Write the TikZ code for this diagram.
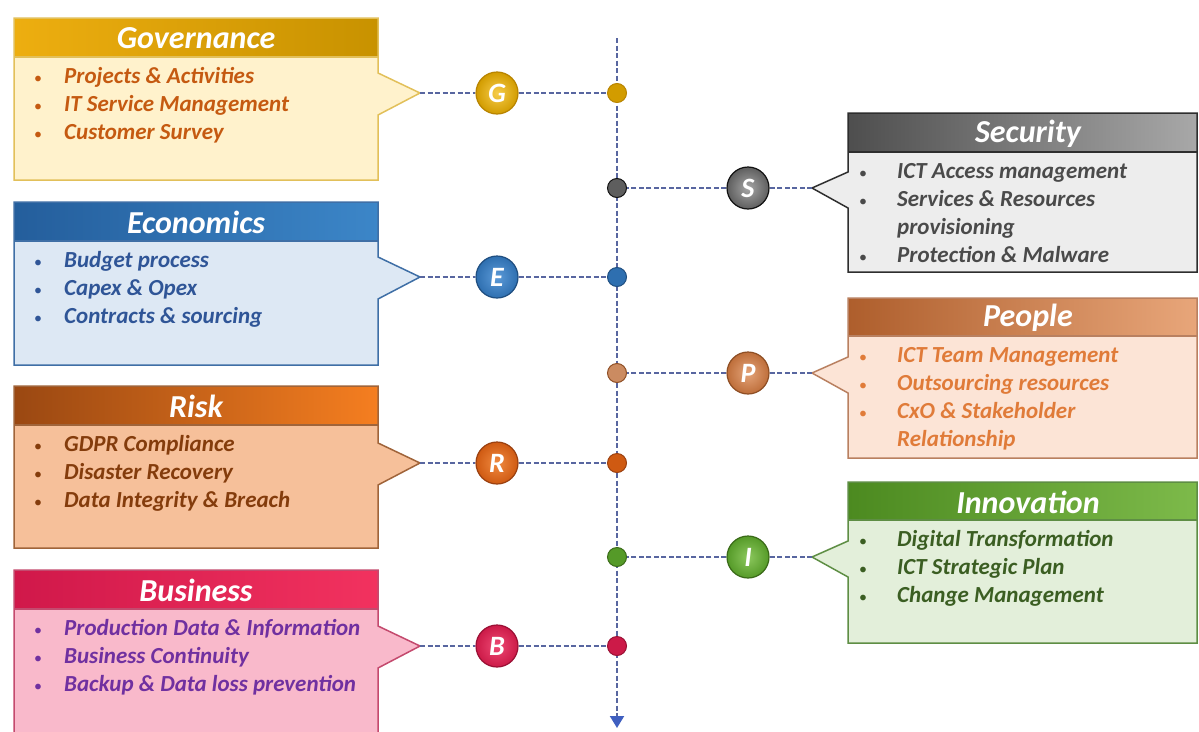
\documentclass[tikz,border=0pt]{standalone}
\usepackage{fontspec}
\setmainfont{Carlito}
\usetikzlibrary{arrows.meta}
% Governance
\definecolor{govH1}{HTML}{EDAE10}\definecolor{govH2}{HTML}{C89200}
\definecolor{govB}{HTML}{FFF2CC}\definecolor{govD}{HTML}{E2C05A}\definecolor{govT}{HTML}{C55A11}
\definecolor{govC}{HTML}{D29C00}\definecolor{govL}{HTML}{F6CC4A}\definecolor{govK}{HTML}{B88400}
% Economics
\definecolor{ecoH1}{HTML}{245E9C}\definecolor{ecoH2}{HTML}{3C86C8}
\definecolor{ecoB}{HTML}{DDE8F4}\definecolor{ecoD}{HTML}{3F6FA6}\definecolor{ecoT}{HTML}{2F5597}
\definecolor{ecoC}{HTML}{2E6FB0}\definecolor{ecoL}{HTML}{5C9AD8}\definecolor{ecoK}{HTML}{1F4E80}
% Risk
\definecolor{riskH1}{HTML}{9A4812}\definecolor{riskH2}{HTML}{F57E20}
\definecolor{riskB}{HTML}{F6C09A}\definecolor{riskD}{HTML}{A0643A}\definecolor{riskT}{HTML}{843C0C}
\definecolor{riskC}{HTML}{CF5A12}\definecolor{riskL}{HTML}{F08A40}\definecolor{riskK}{HTML}{9A4010}
% Business
\definecolor{busH1}{HTML}{D0184A}\definecolor{busH2}{HTML}{F2325F}
\definecolor{busB}{HTML}{F9B9CB}\definecolor{busD}{HTML}{C44A6E}\definecolor{busT}{HTML}{7030A0}
\definecolor{busC}{HTML}{CC1A48}\definecolor{busL}{HTML}{EE4A74}\definecolor{busK}{HTML}{9A1034}
% Security
\definecolor{secH1}{HTML}{4E4E4E}\definecolor{secH2}{HTML}{A8A8A8}
\definecolor{secB}{HTML}{EDEDED}\definecolor{secD}{HTML}{2E2E2E}\definecolor{secT}{HTML}{4A4A4A}
\definecolor{secC}{HTML}{5E5E5E}\definecolor{secL}{HTML}{A6A6A6}\definecolor{secK}{HTML}{111111}
% People
\definecolor{pplH1}{HTML}{AE5E2C}\definecolor{pplH2}{HTML}{E8A67A}
\definecolor{pplB}{HTML}{FCE4D6}\definecolor{pplD}{HTML}{B98060}\definecolor{pplT}{HTML}{E07B39}
\definecolor{pplC}{HTML}{BE6E3A}\definecolor{pplL}{HTML}{E4A47A}\definecolor{pplK}{HTML}{8E4E24}
% Innovation
\definecolor{innH1}{HTML}{4C8A20}\definecolor{innH2}{HTML}{7DBA4A}
\definecolor{innB}{HTML}{E3EFDA}\definecolor{innD}{HTML}{5E8E44}\definecolor{innT}{HTML}{3B5E22}
\definecolor{innC}{HTML}{559A28}\definecolor{innL}{HTML}{8CC85E}\definecolor{innK}{HTML}{3A6A18}
\definecolor{dashc}{HTML}{5866A0}
\definecolor{arrowc}{HTML}{3F5FC0}

\newlength\bulw
\setlength\bulw{31pt}
\newcommand\bul{\makebox[\bulw][l]{\fontsize{16}{16}\selectfont\upshape\mdseries •}}
\newcommand\nob{\hspace*{\bulw}}

\tikzset{
  hdr/.style={font=\fontsize{32}{34}\selectfont\bfseries\itshape, text=white, inner sep=0pt},
  itm/.style={font=\fontsize{23}{28}\selectfont\bfseries\itshape, anchor=base west, inner sep=0pt},
  conn/.style={draw=dashc, line width=2pt, dash pattern=on 5pt off 2.5pt},
  bigc/.style={circle, minimum size=42pt, inner sep=0pt, line width=1.2pt,
    font=\fontsize{28}{28}\selectfont\bfseries\itshape, text=white},
  dotn/.style={circle, minimum size=19pt, inner sep=0pt, line width=1pt},
  frame/.style={line width=1.5pt, line join=miter},
}

% left callout: #1 key, #2 top, #3 header bottom, #4 bottom, #5 tip y, #6 title, #7 items
\newcommand\LBox[7]{%
  \fill[#1B] (14,#2) -- (378,#2) -- (378,{#5-20}) -- (420,#5) -- (378,{#5+22}) -- (378,#4) -- (14,#4) -- cycle;
  \shade[left color=#1H1, right color=#1H2] (14,#2) rectangle (378,#3);
  \draw[#1D, frame] (14,#2) -- (378,#2) -- (378,{#5-20}) -- (420,#5) -- (378,{#5+22}) -- (378,#4) -- (14,#4) -- cycle;
  \draw[#1D, frame] (14,#3) -- (378,#3);
  \node[hdr] (#1title) at (196,{(#2+#3)/2+1}) {#6};
  \coordinate (#1tip) at (420,#5);
  \setlength\bulw{30pt}%
  \foreach \t [count=\i] in {#7} \node[itm, text=#1T] (#1item\i) at (34,{#3+26+28*(\i-1)}) {\t};
}
% right callout
\newcommand\RBox[7]{%
  \fill[#1B] (1197,#2) -- (848,#2) -- (848,{#5-16}) -- (812,#5) -- (848,{#5+20}) -- (848,#4) -- (1197,#4) -- cycle;
  \shade[left color=#1H1, right color=#1H2] (848,#2) rectangle (1197,#3);
  \draw[#1D, frame] (1197,#2) -- (848,#2) -- (848,{#5-16}) -- (812,#5) -- (848,{#5+20}) -- (848,#4) -- (1197,#4) -- cycle;
  \draw[#1D, frame] (848,#3) -- (1197,#3);
  \node[hdr] (#1title) at (1028,{(#2+#3)/2+1}) {#6};
  \coordinate (#1tip) at (812,#5);
  \setlength\bulw{38pt}%
  \foreach \t [count=\i] in {#7} \node[itm, text=#1T] (#1item\i) at (859,{#3+26+28*(\i-1)}) {\t};
}

\begin{document}
\begin{tikzpicture}[x=1pt,y=-1pt]
\useasboundingbox (0,0) rectangle (1199,731);
\fill[white] (0,0) rectangle (1199,731);

% axis
\coordinate (vtop) at (617,38);
\coordinate (vbot) at (617,728);
\draw[conn, -{Triangle[length=12pt,width=14pt,fill=arrowc,color=arrowc]}] (vtop) -- (vbot);

% boxes
\LBox{gov}{18}{57}{180}{93}{Governance}{\bul Projects \& Activities,\bul IT Service Management,\bul Customer Survey}
\LBox{eco}{202}{241}{365}{277}{Economics}{\bul Budget process,\bul Capex \& Opex,\bul Contracts \& sourcing}
\LBox{risk}{386}{425}{548}{463}{Risk}{\bul GDPR Compliance,\bul Disaster Recovery,\bul Data Integrity \& Breach}
\LBox{bus}{570}{609}{745}{646}{Business}{\bul Production Data \& Information,\bul Business Continuity,\bul Backup \& Data loss prevention}
\RBox{sec}{113}{152}{272}{188}{Security}{\bul ICT Access management,\bul Services \& Resources,\nob provisioning,\bul Protection \& Malware}
\RBox{ppl}{298}{336}{458}{373}{People}{\bul ICT Team Management,\bul Outsourcing resources,\bul CxO \& Stakeholder,\nob Relationship}
\RBox{inn}{482}{520}{643}{557}{Innovation}{\bul Digital Transformation,\bul ICT Strategic Plan,\bul Change Management}

% letter circles
\node[bigc, inner color=govL, outer color=govC, draw=govK] (govc) at (497,93) {G};
\node[bigc, inner color=ecoL, outer color=ecoC, draw=ecoK] (ecoc) at (497,277) {E};
\node[bigc, inner color=riskL, outer color=riskC, draw=riskK] (riskc) at (497,463) {R};
\node[bigc, inner color=busL, outer color=busC, draw=busK] (busc) at (497,646) {B};
\node[bigc, inner color=secL, outer color=secC, draw=secK] (secc) at (748,188) {S};
\node[bigc, inner color=pplL, outer color=pplC, draw=pplK] (pplc) at (748,373) {P};
\node[bigc, inner color=innL, outer color=innC, draw=innK] (innc) at (748,557) {I};

% axis dots
\node[dotn, fill=govC, draw=govK] (govd) at (617,93) {};
\node[dotn, fill=secC, draw=secK] (secd) at (617,188) {};
\node[dotn, fill=ecoC, draw=ecoK] (ecod) at (617,277) {};
\node[dotn, fill=pplC!80!white, draw=pplK] (ppld) at (617,373) {};
\node[dotn, fill=riskC, draw=riskK] (riskd) at (617,463) {};
\node[dotn, fill=innC, draw=innK] (innd) at (617,557) {};
\node[dotn, fill=busC, draw=busK] (busd) at (617,646) {};

% connectors
\foreach \k in {gov,eco,risk,bus,sec,ppl,inn}
  \draw[conn] (\k tip) -- (\k c) -- (\k d);
\end{tikzpicture}
\end{document}
